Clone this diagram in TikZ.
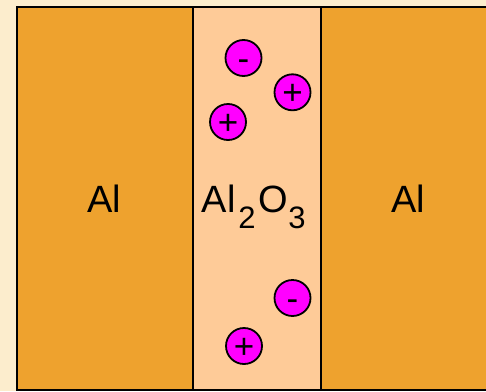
\documentclass[tikz,border=0pt]{standalone}
\usepackage{fontspec}
\setmainfont{Liberation Sans}
\definecolor{cream}{RGB}{252,237,205}
\definecolor{metal}{RGB}{238,162,46}
\definecolor{oxide}{RGB}{254,203,152}
\definecolor{ion}{RGB}{255,0,255}
\newcommand{\subdigit}[1]{\raisebox{-15.5pt}{\fontsize{31}{31}\selectfont #1}}
\tikzset{
  layer/.style={draw=black, line width=1.8pt, inner sep=0pt, minimum height=383pt},
  metalbox/.style={layer, fill=metal, minimum width=176pt},
  oxidebox/.style={layer, fill=oxide, minimum width=128pt},
  ionball/.style={circle, draw=black, line width=1.8pt, fill=ion, minimum size=36pt, inner sep=0pt,
     font=\fontsize{35}{35}\selectfont, text height=24.8pt, text depth=0pt},
  lbl/.style={anchor=base, inner sep=0pt, font=\fontsize{38}{38}\selectfont}
}
\begin{document}
\begin{tikzpicture}[x=1pt,y=-1pt]
\useasboundingbox (0,0) rectangle (486,391);
\clip (0,0) rectangle (486,391);
\fill[cream] (0,0) rectangle (486,391);
\node[metalbox] (leftAl) at (105,198.5) {};
\node[metalbox] (rightAl) at (409,198.5) {};
\node[oxidebox] (oxide) at (257,198.5) {};
\node[lbl] (t1) at (104,212.5) {Al};
\node[lbl] (t2) at (408,212.5) {Al};
\node[lbl, anchor=base west] (t3) at (201.5,212.5) {Al\kern3pt\subdigit{2}\kern3pt O\subdigit{3}};
\node[ionball] (n1) at (243.5,58) {-};
\node[ionball] (p1) at (292.5,92.3) {+};
\node[ionball] (p2) at (228,122) {+};
\node[ionball] (n2) at (292.5,298) {-};
\node[ionball] (p3) at (244,346) {+};
\end{tikzpicture}
\end{document}
